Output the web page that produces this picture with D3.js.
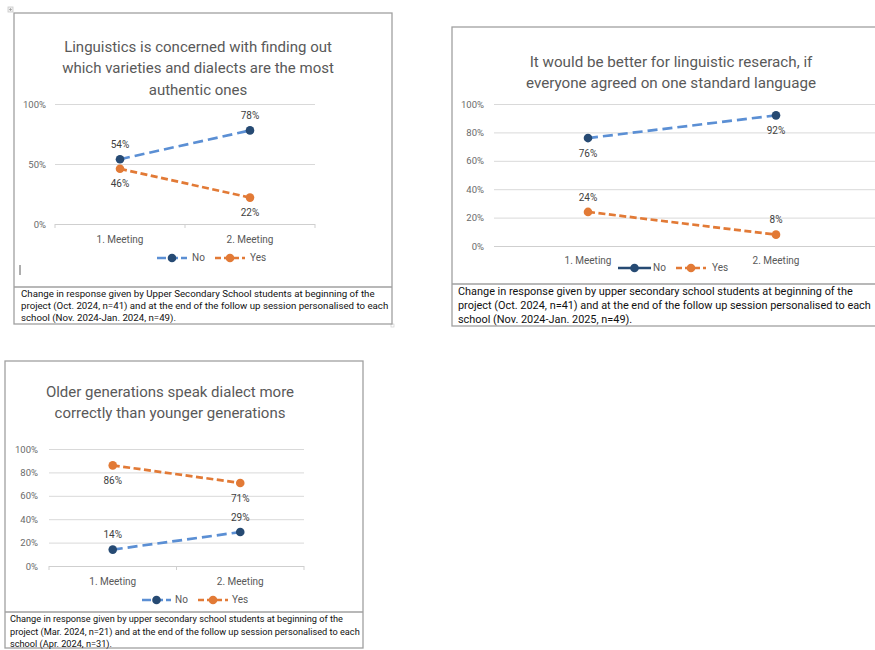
<!DOCTYPE html>
<html>
<head>
<meta charset="utf-8">
<script src="https://cdn.jsdelivr.net/npm/d3@7"></script>
<style>
  html, body { margin: 0; padding: 0; background: #ffffff; }
  svg { display: block; }
</style>
</head>
<body>
<svg id="chart" width="875" height="650"></svg>
<script>
// ---------------- DATA ----------------
const categories = ["1. Meeting", "2. Meeting"];
const seriesNames = ["No", "Yes"];

const chart1No = [54, 78];
const chart1Yes = [46, 22];
const chart1Ticks = [0, 50, 100];
const chart1Title = ["Linguistics is concerned with finding out", "which varieties and dialects are the most", "authentic ones"];
const chart1Caption = [
  "Change in response given by Upper Secondary School students at beginning of the",
  "project (Oct. 2024, n=41) and at the end of the follow up session personalised to each",
  "school (Nov. 2024-Jan. 2024, n=49)."
];

const chart2No = [76, 92];
const chart2Yes = [24, 8];
const chart2Ticks = [0, 20, 40, 60, 80, 100];
const chart2Title = ["It would be better for linguistic reserach, if", "everyone agreed on one standard language"];
const chart2Caption = [
  "Change in response given by upper secondary school students at beginning of the",
  "project (Oct. 2024, n=41) and at the end of the follow up session personalised to each",
  "school (Nov. 2024-Jan. 2025, n=49)."
];

const chart3No = [14, 29];
const chart3Yes = [86, 71];
const chart3Ticks = [0, 20, 40, 60, 80, 100];
const chart3Title = ["Older generations speak dialect more", "correctly than younger generations"];
const chart3Caption = [
  "Change in response given by upper secondary school students at beginning of the",
  "project (Mar. 2024, n=21) and at the end of the follow up session personalised to each",
  "school (Apr. 2024, n=31)."
];

// ---------------- STYLE ----------------
const FONT = "Roboto, 'Open Sans', sans-serif";
const noLine = "#5b8fd4";
const noMarker = "#264a73";
const yesColor = "#e27a36";
const gridColor = "#d9d9d9";
const textGray = "#595959";
const labelGray = "#404040";
const borderColor = "#a0a0a0";

const svg = d3.select("#chart");

// small handle squares (Word object anchors)
svg.append("rect").attr("x", 8).attr("y", 7).attr("width", 5).attr("height", 5)
  .attr("fill", "#f0f0f0").attr("stroke", "#c8c8c8").attr("stroke-width", 0.8);
svg.append("path").attr("d", "M10.5,8 V11 M9,9.5 H12").attr("stroke", "#999").attr("stroke-width", 0.7);
svg.append("rect").attr("x", 391).attr("y", 324).attr("width", 3).attr("height", 3)
  .attr("fill", "#fff").attr("stroke", "#c8c8c8").attr("stroke-width", 0.6);

function drawChart(cfg) {
  const g = svg.append("g");
  // outer box
  g.append("rect")
    .attr("x", cfg.box.x).attr("y", cfg.box.y)
    .attr("width", cfg.box.w).attr("height", cfg.box.h)
    .attr("fill", "#fff").attr("stroke", borderColor).attr("stroke-width", 1.3);
  g.append("line")
    .attr("x1", cfg.box.x).attr("x2", cfg.box.x + cfg.box.w)
    .attr("y1", cfg.sepY).attr("y2", cfg.sepY)
    .attr("stroke", borderColor).attr("stroke-width", 1.3);

  // title
  g.append("g").selectAll("text").data(cfg.title).join("text")
    .attr("x", cfg.titleX)
    .attr("y", (d, i) => cfg.titleY + i * cfg.titleLH)
    .attr("text-anchor", "middle")
    .attr("dominant-baseline", "middle")
    .attr("font-family", FONT)
    .attr("font-size", cfg.titleSize)
    .attr("fill", textGray)
    .text(d => d);

  // scales
  const x = d3.scaleBand().domain(categories).range(cfg.xRange).padding(0);
  const cx = c => x(c) + x.bandwidth() / 2;
  const y = d3.scaleLinear().domain([0, 100]).range(cfg.yRange);

  // gridlines
  const gridAxis = d3.axisLeft(y).tickValues(cfg.ticks).tickSize(-(cfg.gridRight - cfg.xRange[0])).tickFormat("");
  const gg = g.append("g").attr("transform", `translate(${cfg.xRange[0]},0)`).call(gridAxis);
  gg.select(".domain").remove();
  gg.selectAll(".tick line").attr("stroke", gridColor).attr("stroke-width", 1)
    .filter(d => d === 0).attr("stroke", "#cfcfcf");

  // y tick labels
  const yAxis = d3.axisLeft(y).tickValues(cfg.ticks).tickSize(0).tickPadding(0).tickFormat(d => d + "%");
  const ya = g.append("g").attr("transform", `translate(${cfg.yLabelX},0)`).call(yAxis);
  ya.select(".domain").remove();
  ya.selectAll("text").attr("font-family", FONT).attr("font-size", 9.5).attr("fill", "#6a6a6a");

  // x axis (category labels + small ticks)
  const xAxis = d3.axisBottom(x).tickSize(0).tickPadding(0);
  const xa = g.append("g").attr("transform", `translate(0,${cfg.xLabelY})`).call(xAxis);
  xa.select(".domain").remove();
  xa.selectAll("text").attr("font-family", FONT).attr("font-size", 10).attr("fill", textGray)
    .attr("dy", "0.35em");
  if (cfg.axisTicks) {
    const bounds = [cfg.xRange[0], cfg.xRange[0] + x.bandwidth(), cfg.xRange[1]];
    g.append("g").selectAll("line").data(bounds).join("line")
      .attr("x1", d => d).attr("x2", d => d)
      .attr("y1", cfg.yRange[0]).attr("y2", cfg.yRange[0] + 4)
      .attr("stroke", "#cfcfcf").attr("stroke-width", 1);
  }

  const series = [
    { name: "No", values: cfg.no, line: noLine, marker: noMarker, dash: "10,5", labelPos: cfg.noLabel },
    { name: "Yes", values: cfg.yes, line: yesColor, marker: yesColor, dash: "7,3.5", labelPos: cfg.yesLabel }
  ];

  const lineGen = d3.line().x((d, i) => cx(categories[i])).y(d => y(d));

  series.forEach(s => {
    g.append("path").datum(s.values)
      .attr("d", lineGen)
      .attr("fill", "none")
      .attr("stroke", s.line)
      .attr("stroke-width", 2.7)
      .attr("stroke-dasharray", s.dash);
    g.append("g").selectAll("circle").data(s.values).join("circle")
      .attr("cx", (d, i) => cx(categories[i]))
      .attr("cy", d => y(d))
      .attr("r", 4.3)
      .attr("fill", s.marker);
    g.append("g").selectAll("text").data(s.values).join("text")
      .attr("x", (d, i) => cx(categories[i]))
      .attr("y", (d, i) => y(d) + (s.labelPos[i] === "above" ? -14 : 16))
      .attr("text-anchor", "middle")
      .attr("dominant-baseline", "middle")
      .attr("font-family", FONT)
      .attr("font-size", 10)
      .attr("fill", labelGray)
      .text(d => d + "%");
  });

  // legend
  const leg = g.append("g");
  cfg.legend.forEach((L, i) => {
    const s = series[i];
    const solid = L.solid;
    leg.append("line")
      .attr("x1", L.x1).attr("x2", L.x2).attr("y1", cfg.legendY).attr("y2", cfg.legendY)
      .attr("stroke", solid ? s.marker : s.line)
      .attr("stroke-width", 2.7)
      .attr("stroke-dasharray", solid ? null : (i === 0 ? "9,3" : "6,3"));
    leg.append("circle").attr("cx", (L.x1 + L.x2) / 2).attr("cy", cfg.legendY).attr("r", 4.3).attr("fill", s.marker);
    leg.append("text")
      .attr("x", L.tx).attr("y", cfg.legendY)
      .attr("dominant-baseline", "middle")
      .attr("font-family", FONT).attr("font-size", 10).attr("fill", textGray)
      .text(s.name);
  });

  // caption
  g.append("g").selectAll("text").data(cfg.caption).join("text")
    .attr("x", cfg.captionX)
    .attr("y", (d, i) => cfg.captionY + i * cfg.captionLH)
    .attr("dominant-baseline", "middle")
    .attr("font-family", FONT)
    .attr("font-size", cfg.captionSize)
    .attr("fill", "#111")
    .text(d => d);
}

drawChart({
  box: { x: 14, y: 13, w: 378, h: 311 }, sepY: 287,
  title: chart1Title, titleX: 198, titleY: 48, titleLH: 21.5, titleSize: 15,
  xRange: [55, 315], gridRight: 315, yRange: [224, 104], ticks: chart1Ticks,
  yLabelX: 46, xLabelY: 239, axisTicks: true,
  no: chart1No, yes: chart1Yes, noLabel: ["above", "above"], yesLabel: ["below", "below"],
  legendY: 258, legend: [{ x1: 157, x2: 187, tx: 192 }, { x1: 215, x2: 245, tx: 250 }],
  caption: chart1Caption, captionX: 21, captionY: 294, captionLH: 12, captionSize: 9.7
});

drawChart({
  box: { x: 452, y: 27, w: 430, h: 299 }, sepY: 284,
  title: chart2Title, titleX: 671, titleY: 63, titleLH: 21, titleSize: 15.2,
  xRange: [494, 870], gridRight: 876, yRange: [246, 104], ticks: chart2Ticks,
  yLabelX: 484, xLabelY: 260, axisTicks: false,
  no: chart2No, yes: chart2Yes, noLabel: ["below", "below"], yesLabel: ["above", "above"],
  legendY: 268, legend: [{ x1: 618, x2: 651, tx: 653, solid: true }, { x1: 676, x2: 706, tx: 712 }],
  caption: chart2Caption, captionX: 458, captionY: 292, captionLH: 14, captionSize: 10.9
});

drawChart({
  box: { x: 5, y: 361, w: 358, h: 287 }, sepY: 612,
  title: chart3Title, titleX: 170, titleY: 393, titleLH: 21.5, titleSize: 15,
  xRange: [49, 304], gridRight: 304, yRange: [566, 449], ticks: chart3Ticks,
  yLabelX: 38, xLabelY: 581, axisTicks: true,
  no: chart3No, yes: chart3Yes, noLabel: ["above", "above"], yesLabel: ["below", "below"],
  legendY: 600, legend: [{ x1: 142, x2: 171, tx: 175 }, { x1: 198, x2: 228, tx: 232 }],
  caption: chart3Caption, captionX: 10, captionY: 620, captionLH: 12.2, captionSize: 9.2
});

// text cursor mark in first chart
svg.append("line").attr("x1", 20).attr("x2", 20).attr("y1", 265).attr("y2", 275)
  .attr("stroke", "#333").attr("stroke-width", 0.8);
</script>
</body>
</html>
